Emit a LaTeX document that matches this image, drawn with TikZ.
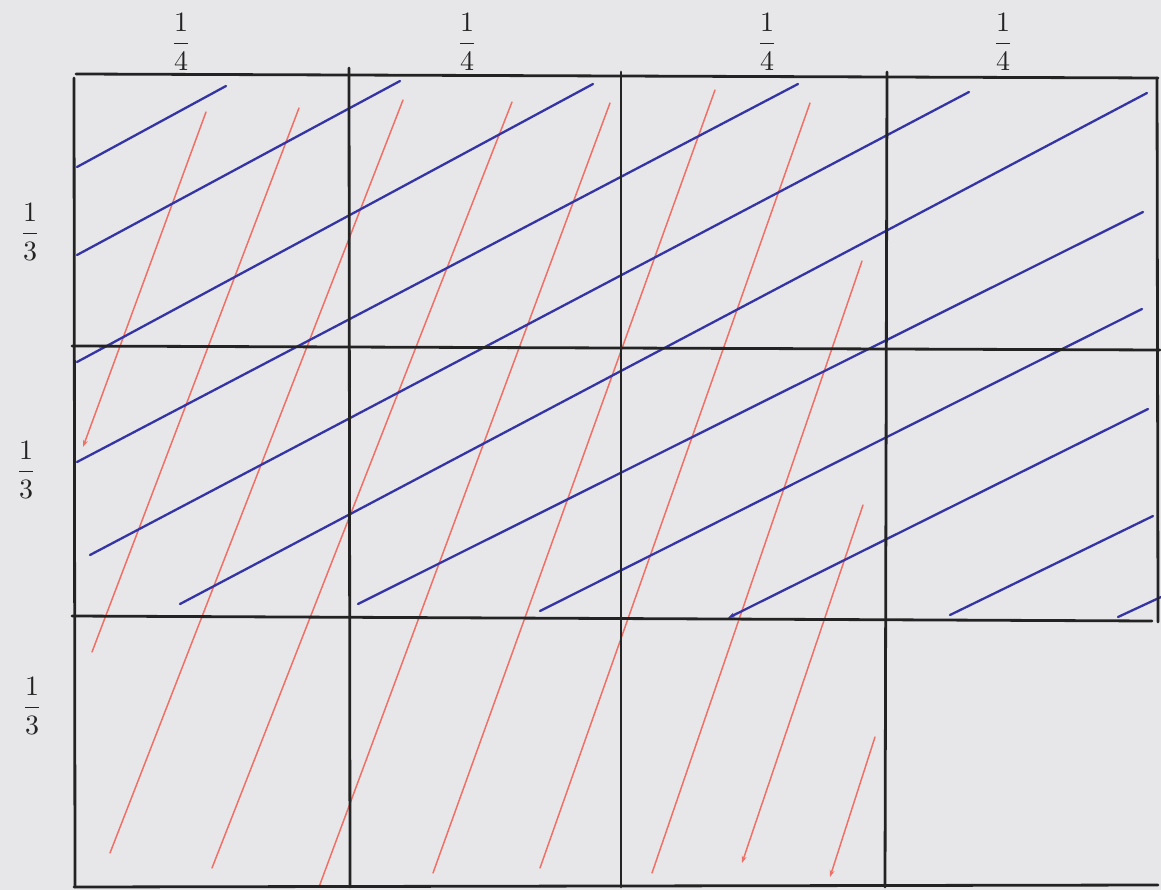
\documentclass[tikz,border=0pt]{standalone}
\usetikzlibrary{arrows.meta}
\definecolor{paper}{RGB}{231,231,233}
\definecolor{gridc}{RGB}{35,35,35}
\definecolor{penblue}{RGB}{52,52,165}
\definecolor{penred}{RGB}{238,112,102}
\newcommand{\myfrac}[2]{\scalebox{2.8}{$\displaystyle\frac{#1}{#2}$}}
\tikzset{
  gridline/.style={draw=gridc,line width=2.8pt,line cap=round},
  blueline/.style={draw=penblue,line width=2.3pt,line cap=round},
  redline/.style={draw=penred,line width=1.5pt,line cap=round},
  tipped/.style={-{Stealth[length=7pt,width=5pt]}},
  frac/.style={text=gridc,inner sep=0pt,font=\normalsize}
}
\begin{document}
\begin{tikzpicture}[x=1pt,y=-1pt]
\useasboundingbox[fill=paper] (0,0) rectangle (1161,890);
% labels
\node[frac] (c1) at (181,42) {\myfrac{1}{4}};
\node[frac] (c2) at (467,42) {\myfrac{1}{4}};
\node[frac] (c3) at (767,42) {\myfrac{1}{4}};
\node[frac] (c4) at (1003,42) {\myfrac{1}{4}};
\node[frac] (r1) at (30,232) {\myfrac{1}{3}};
\node[frac] (r2) at (26,470) {\myfrac{1}{3}};
\node[frac] (r3) at (32,706) {\myfrac{1}{3}};
% red lines
\draw[redline,tipped] (206,112) -- (83,447);
\draw[redline] (299,108) -- (92,652);
\draw[redline] (403,100) -- (110,853);
\draw[redline] (512,102) -- (212,868);
\draw[redline] (610,103) -- (319,887);
\draw[redline] (715,90) -- (433,873);
\draw[redline] (810,103) -- (540,868);
\draw[redline] (862,261) -- (652,873);
\draw[redline,tipped] (863,505) -- (742,863);
\draw[redline,tipped] (875,737) -- (830,877);
% blue lines
\draw[blueline] (77,167) -- (226,86);
\draw[blueline] (77,255) -- (400,81);
\draw[blueline] (77,362) -- (593,84);
\draw[blueline] (77,462) -- (798,84);
\draw[blueline] (90,555) -- (969,92);
\draw[blueline] (180,604) -- (1147,93);
\draw[blueline] (358,604) -- (1143,212);
\draw[blueline] (540,611) -- (1142,309);
\draw[blueline,tipped] (1148,409) -- (728,618);
\draw[blueline] (950,615) -- (1153,516);
\draw[blueline] (1118,617) -- (1161,597);
% grid
\draw[gridline] (74,78) -- (75,887);
\draw[gridline] (349,68) -- (350,887);
\draw[gridline] (621,72) -- (621,887);
\draw[gridline] (887,72) -- (885,887);
\draw[gridline] (1157,78) -- (1158,622);
\draw[gridline] (76,74) -- (1158,78);
\draw[gridline] (72,346) -- (1160,350);
\draw[gridline] (72,616) -- (1152,621);
\draw[gridline] (74,887) -- (1158,885);
\end{tikzpicture}
\end{document}
